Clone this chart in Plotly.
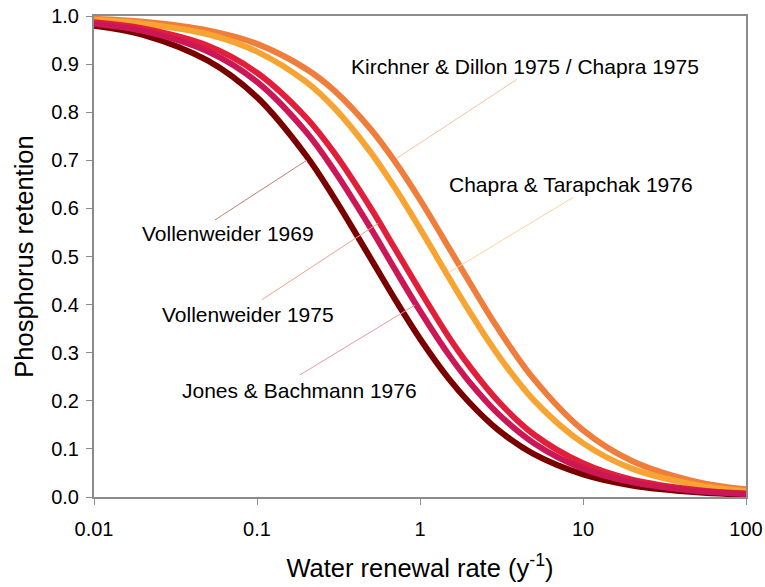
import plotly.graph_objects as go

# Water renewal rate (1/yr)
rho = [0.01, 0.02, 0.05, 0.1, 0.2, 0.3, 0.5, 0.7, 1, 1.5, 2, 3, 5, 10, 20, 50, 100]

# Phosphorus retention predicted by each model
vollenweider_1969 = [0.980, 0.961, 0.907, 0.831, 0.710, 0.620, 0.495, 0.412, 0.329,
                     0.246, 0.197, 0.140, 0.089, 0.047, 0.024, 0.0097, 0.0049]
jones_bachmann_1976 = [0.984, 0.969, 0.926, 0.863, 0.759, 0.677, 0.558, 0.474, 0.387,
                       0.296, 0.240, 0.174, 0.112, 0.059, 0.031, 0.0124, 0.0063]
vollenweider_1975 = [0.987, 0.974, 0.938, 0.882, 0.789, 0.714, 0.600, 0.517, 0.429,
                     0.333, 0.273, 0.200, 0.130, 0.070, 0.036, 0.0148, 0.0074]
chapra_tarapchak_1976 = [0.992, 0.984, 0.962, 0.926, 0.863, 0.808, 0.716, 0.643, 0.558,
                         0.457, 0.387, 0.296, 0.201, 0.112, 0.059, 0.0246, 0.0124]
kirchner_dillon_1975 = [0.994, 0.988, 0.970, 0.942, 0.890, 0.844, 0.764, 0.698, 0.618,
                        0.519, 0.448, 0.351, 0.245, 0.139, 0.075, 0.0314, 0.0159]

x_ticks = [0.01, 0.1, 1, 10, 100]
x_tick_text = ["0.01", "0.1", "1", "10", "100"]

FONT = "Arial, Liberation Sans, sans-serif"

fig = go.Figure()

# drawing order: later traces sit on top
curves = [
    (kirchner_dillon_1975, "#ef7d3b"),
    (chapra_tarapchak_1976, "#f7a433"),
    (vollenweider_1969, "#7a0000"),
    (vollenweider_1975, "#e21f3a"),
    (jones_bachmann_1976, "#cc1757"),
]
for values, color in curves:
    fig.add_trace(go.Scatter(
        x=rho, y=values, mode="lines", line=dict(color=color, width=6, shape="spline"),
        hoverinfo="skip", showlegend=False,
    ))

# leader lines: (label end, curve end) in data units, colour
leaders = [
    ([3.92, 0.719], [0.868, 0.704], "#f9c3a0"),
    ([8.71, 1.491], [0.623, 0.466], "#fbd39c"),
    ([0.0552, 0.2018], [0.576, 0.700], "#c0806c"),
    ([0.107, 0.555], [0.410, 0.569], "#f3a08c"),
    ([0.1837, 0.931], [0.254, 0.399], "#ec97a8"),
]
for lx, ly, color in leaders:
    fig.add_trace(go.Scatter(
        x=lx, y=ly, mode="lines", line=dict(color=color, width=1),
        hoverinfo="skip", showlegend=False,
    ))

# model labels (x given as log10 of the renewal rate)
labels = [
    ("Kirchner & Dillon 1975 / Chapra 1975", 0.642, 0.894),
    ("Chapra & Tarapchak 1976", 0.928, 0.650),
    ("Vollenweider 1969", -1.176, 0.548),
    ("Vollenweider 1975", -1.056, 0.3785),
    ("Jones & Bachmann 1976", -0.739, 0.221),
]
for text, lx, ly in labels:
    fig.add_annotation(
        x=lx, y=ly, xref="x", yref="y", text=text, showarrow=False,
        font=dict(family=FONT, size=21, color="#000000"),
        xanchor="center", yanchor="middle",
    )

axis_common = dict(
    showline=True, linecolor="#8c8c8c", linewidth=2, mirror=True,
    ticks="outside", ticklen=6, tickcolor="#8c8c8c", tickwidth=1,
    showgrid=False, zeroline=False, automargin=False,
    tickfont=dict(family=FONT, size=20, color="#000000"),
)

fig.update_layout(
    width=765, height=587,
    margin=dict(l=94, r=19, t=16, b=90, autoexpand=False),
    paper_bgcolor="white", plot_bgcolor="white",
    xaxis=dict(
        type="log", range=[-2, 2], tickvals=x_ticks, ticktext=x_tick_text,
        ticklabelstandoff=7,
        title=dict(text="Water renewal rate (y<sup>-1</sup>)",
                   font=dict(family=FONT, size=25.5, color="#000000"), standoff=20),
        **axis_common,
    ),
    yaxis=dict(
        range=[0, 1], dtick=0.1, tickformat=".1f",
        ticklabelstandoff=3,
        title=dict(text="Phosphorus retention",
                   font=dict(family=FONT, size=25.5, color="#000000"), standoff=10),
        **axis_common,
    ),
)

fig.write_html("out.html")
